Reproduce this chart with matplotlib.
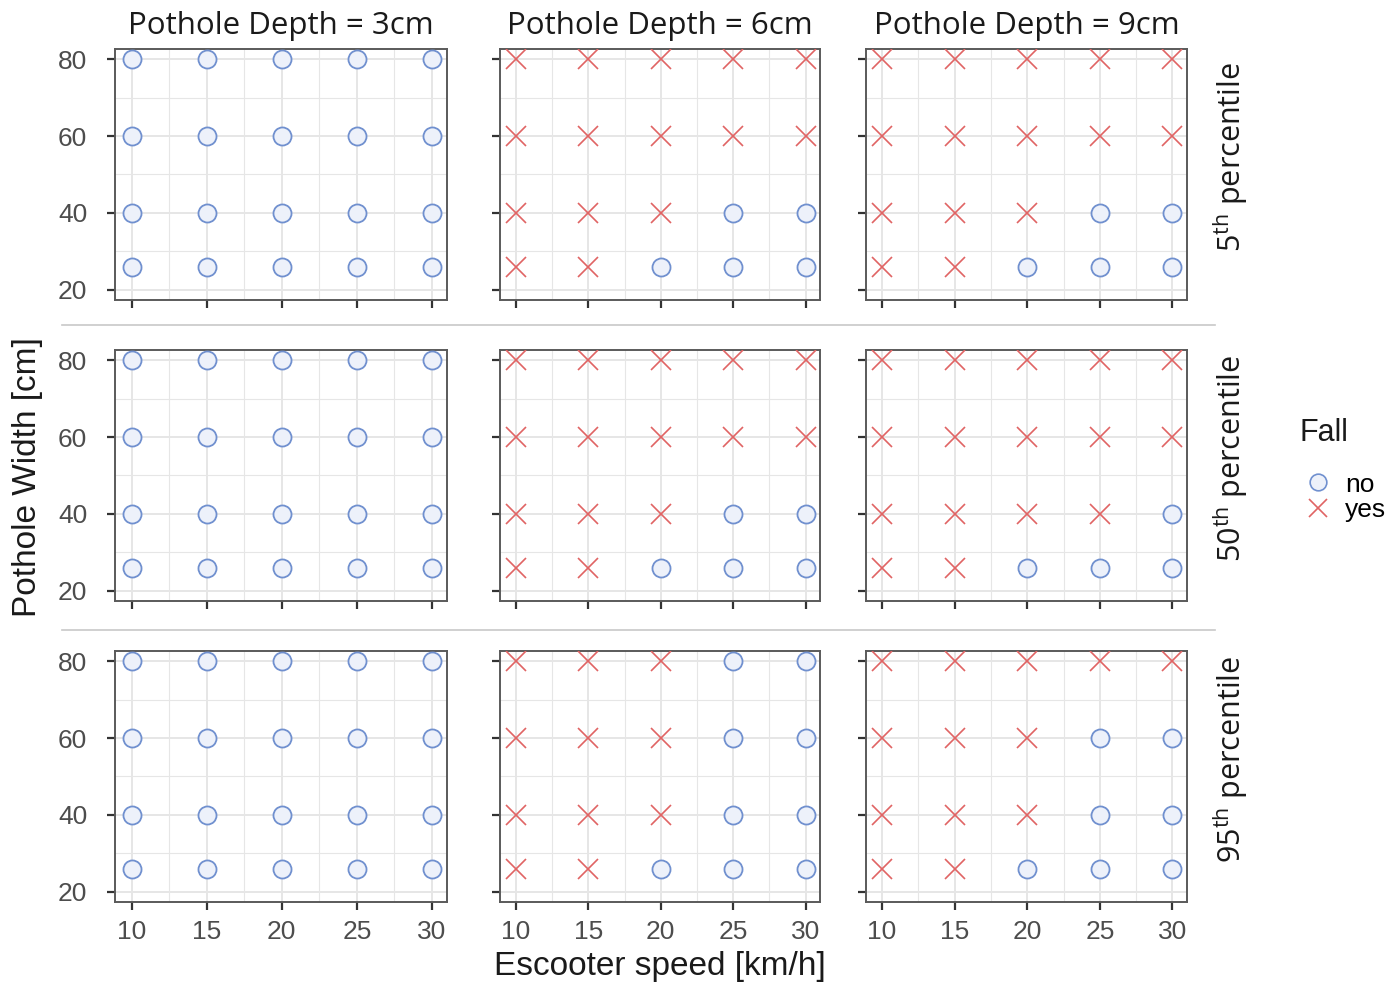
import matplotlib
matplotlib.use("Agg")
import matplotlib.pyplot as plt
from matplotlib.lines import Line2D

plt.rcParams["mathtext.fontset"] = "custom"
plt.rcParams["mathtext.rm"] = "Open Sans"

# -----------------------------------------------------------------
# Data
# -----------------------------------------------------------------
speeds = [10, 15, 20, 25, 30]
widths = [26, 40, 60, 80]
depth_labels = ["3cm", "6cm", "9cm"]
percentile_labels = ["5", "50", "95"]

# fall outcome (1 = yes, 0 = no); rows follow `widths`, columns follow `speeds`
fall_p5_d3 = [[0, 0, 0, 0, 0], [0, 0, 0, 0, 0], [0, 0, 0, 0, 0], [0, 0, 0, 0, 0]]
fall_p5_d6 = [[1, 1, 0, 0, 0], [1, 1, 1, 0, 0], [1, 1, 1, 1, 1], [1, 1, 1, 1, 1]]
fall_p5_d9 = [[1, 1, 0, 0, 0], [1, 1, 1, 0, 0], [1, 1, 1, 1, 1], [1, 1, 1, 1, 1]]

fall_p50_d3 = [[0, 0, 0, 0, 0], [0, 0, 0, 0, 0], [0, 0, 0, 0, 0], [0, 0, 0, 0, 0]]
fall_p50_d6 = [[1, 1, 0, 0, 0], [1, 1, 1, 0, 0], [1, 1, 1, 1, 1], [1, 1, 1, 1, 1]]
fall_p50_d9 = [[1, 1, 0, 0, 0], [1, 1, 1, 1, 0], [1, 1, 1, 1, 1], [1, 1, 1, 1, 1]]

fall_p95_d3 = [[0, 0, 0, 0, 0], [0, 0, 0, 0, 0], [0, 0, 0, 0, 0], [0, 0, 0, 0, 0]]
fall_p95_d6 = [[1, 1, 0, 0, 0], [1, 1, 1, 0, 0], [1, 1, 1, 0, 0], [1, 1, 1, 0, 0]]
fall_p95_d9 = [[1, 1, 0, 0, 0], [1, 1, 1, 0, 0], [1, 1, 1, 0, 0], [1, 1, 1, 1, 1]]

fall_grid = [
    [fall_p5_d3, fall_p5_d6, fall_p5_d9],
    [fall_p50_d3, fall_p50_d6, fall_p50_d9],
    [fall_p95_d3, fall_p95_d6, fall_p95_d9],
]

# -----------------------------------------------------------------
# Styling
# -----------------------------------------------------------------
W, H = 1390, 984
BLUE = "#7090cf"
BLUE_FILL = "#edf1fa"
RED = "#e06464"
GRID = "#e6e6e6"
SPINE = "#5a5a5a"
TICK_FONT = "Liberation Sans"
STRIP_FONT = "Open Sans"

col_px = [(115, 447), (500, 820), (866, 1187)]
row_px = [(49, 300), (350, 601), (651, 902)]

fig = plt.figure(figsize=(W / 100, H / 100), dpi=100)

for r in range(3):
    for c in range(3):
        x0, x1 = col_px[c]
        y0, y1 = row_px[r]
        ax = fig.add_axes([x0 / W, 1 - y1 / H, (x1 - x0) / W, (y1 - y0) / H])
        grid = fall_grid[r][c]
        for wi, w in enumerate(widths):
            for si, s in enumerate(speeds):
                if grid[wi][si]:
                    ax.plot(s, w, marker="x", markersize=14, markeredgewidth=1.2,
                            color=RED, linestyle="none", zorder=3)
                else:
                    ax.plot(s, w, marker="o", markersize=13, markeredgewidth=1.3,
                            markeredgecolor=BLUE, markerfacecolor=BLUE_FILL,
                            linestyle="none", zorder=3)
        ax.set_xlim(8.9, 31.0)
        ax.set_ylim(17.4, 82.6)
        ax.set_xticks(speeds)
        ax.set_xticks([12.5, 17.5, 22.5, 27.5], minor=True)
        ax.set_yticks([20, 40, 60, 80])
        ax.set_yticks([30, 50, 70], minor=True)
        ax.grid(True, which="major", color=GRID, linewidth=1.4, zorder=0)
        ax.grid(True, which="minor", color=GRID, linewidth=0.8, zorder=0)
        ax.tick_params(which="minor", length=0)
        ax.tick_params(which="major", length=6, width=1.6, color="#333333",
                       labelsize=19, labelcolor="#4d4d4d")
        ax.tick_params(axis="y", pad=14)
        ax.tick_params(axis="x", pad=7)
        for sp in ax.spines.values():
            sp.set_color(SPINE)
            sp.set_linewidth(1.4)
        for lab in ax.get_xticklabels() + ax.get_yticklabels():
            lab.set_fontfamily(TICK_FONT)
        if c != 0:
            ax.set_yticklabels([])
        if r != 2:
            ax.set_xticklabels([])
        if r == 0:
            ax.set_title(f"Pothole Depth = {depth_labels[c]}", fontsize=22.5,
                         fontfamily=STRIP_FONT, color="#1a1a1a", pad=11)
        if c == 2:
            ax.text(1.135, 0.57, rf"{percentile_labels[r]}$^{{\mathrm{{th}}}}$ percentile",
                    transform=ax.transAxes, rotation=90, ha="center", va="center",
                    fontsize=22, fontfamily=STRIP_FONT, color="#1a1a1a")

# separator lines between rows
for y in (325, 630):
    fig.add_artist(Line2D([62 / W, 1215 / W], [1 - y / H, 1 - y / H],
                          color="#c8c8c8", linewidth=1.2))

fig.text(660 / W, 1 - 966 / H, "Escooter speed [km/h]", ha="center", va="center",
         fontsize=24, fontfamily=TICK_FONT, color="#1a1a1a")
fig.text(28 / W, 1 - 477 / H, "Pothole Width [cm]", ha="center", va="center",
         rotation=90, fontsize=24, fontfamily=TICK_FONT, color="#1a1a1a")

# legend
fig.text(1300 / W, 1 - 433 / H, "Fall", ha="left", va="center", fontsize=22,
         fontfamily=TICK_FONT, color="#1a1a1a")
handles = [
    Line2D([], [], marker="o", markersize=12, markeredgewidth=1.2, markeredgecolor=BLUE,
           markerfacecolor=BLUE_FILL, linestyle="none", label="no"),
    Line2D([], [], marker="x", markersize=13, markeredgewidth=1.2, color=RED,
           linestyle="none", label="yes"),
]
fig.legend(handles=handles, loc="upper left", bbox_to_anchor=(1292 / W, 1 - 462 / H),
           frameon=False, handletextpad=0.4, labelspacing=0.05, borderaxespad=0,
           prop={"family": TICK_FONT, "size": 19}, handlelength=1.2)

fig.savefig("out.png", dpi=100)
